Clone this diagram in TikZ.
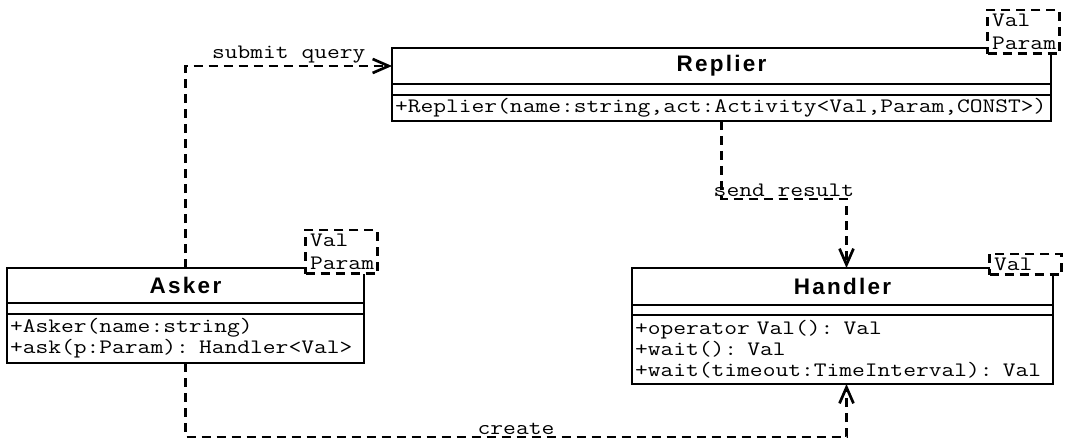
\documentclass[tikz,border=0pt]{standalone}
\usepackage{fontspec}
\newfontfamily\titlefont[LetterSpace=10]{Liberation Sans}
\newfontfamily\codefont[FakeStretch=1.21]{Latin Modern Mono}
\usetikzlibrary{positioning,arrows.meta}
\begin{document}
\begin{tikzpicture}[x=1pt, y=-1pt, >={Straight Barb[length=16pt,width=14pt]},
       box/.style={draw, line width=2.7pt, outer sep=0pt, inner sep=0pt},
       classname/.style={box, font=\titlefont\bfseries\fontsize{22.5}{24}\selectfont},
       ops/.style={box, inner xsep=3pt, inner ysep=2pt, align=left, font=\codefont\fontsize{20.5}{21}\selectfont},
       tmpl/.style={draw, line width=2.7pt, dash pattern=on 9pt off 6pt, fill=white, anchor=south east,
                    text width=63pt, align=left, inner xsep=4.5pt, inner ysep=4pt, font=\codefont\fontsize{20.5}{23}\selectfont},
       dep/.style={->, line width=2.7pt, dash pattern=on 9pt off 6pt},
       lbl/.style={above, inner sep=1pt, font=\codefont\fontsize{20.5}{21}\selectfont}]
       \useasboundingbox (0,0) rectangle (1066,441);
       \node[classname, minimum width=659, minimum height=36] (replierT) at (721.5,66) {Replier};
       \node[box, minimum width=659, minimum height=11, below=0pt of replierT] (replierA) {};
       \node[ops, text width=653, minimum height=26, below=0pt of replierA] (replierM) {+Replier(name:string,act:Activity<Val,Param,CONST>)};
       \node[classname, minimum width=357, minimum height=35] (askerT) at (185.5,285.5) {Asker};
       \node[box, minimum width=357, minimum height=11, below=0pt of askerT] (askerA) {};
       \node[ops, text width=351, minimum height=49, below=0pt of askerA] (askerM) {+Asker(name:string)\\+ask(p:Param): Handler<Val>};
       \node[classname, minimum width=421, minimum height=37] (handlerT) at (842.5,286.5) {Handler};
       \node[box, minimum width=421, minimum height=10, below=0pt of handlerT] (handlerA) {};
       \node[ops, text width=415, minimum height=69, below=0pt of handlerA] (handlerM) {+operator Val(): Val\\+wait(): Val\\+wait(timeout:TimeInterval): Val};
       \node[tmpl] (replierP) at ([shift={(10,7)}]replierT.north east) {Val\\Param};
       \node[tmpl] (askerP) at ([shift={(15,7)}]askerT.north east) {Val\\Param};
       \node[tmpl] (handlerP) at ([shift={(10,8)}]handlerT.north east) {Val};
       \draw[dep] (askerT.north) |- node[lbl, pos=0.75] {submit query} (replierT.west);
       \draw[dep] (replierM.south) -- ++(0,78) -| node[lbl, pos=0.25] {send result} ([xshift=4pt]handlerT.north);
       \draw[dep] (askerM.south) -- ++(0,74) -| node[lbl, pos=0.25] {create} ([xshift=4pt]handlerM.south);
\end{tikzpicture}
\end{document}
